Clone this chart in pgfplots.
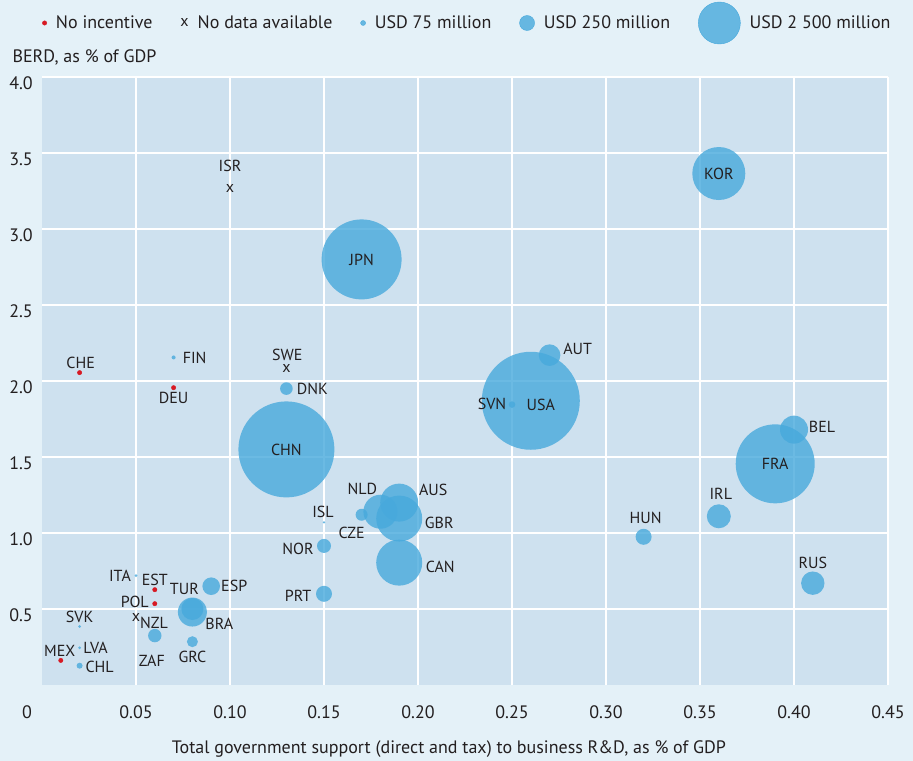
\documentclass[border=0pt]{standalone}
\usepackage{pgfplots}
\pgfplotsset{compat=1.18}
\usepackage{pgfplotstable}
\usepackage{fontspec}
\setmainfont{PT Sans}
\usetikzlibrary{backgrounds,calc}
\definecolor{outerbg}{RGB}{228,241,248}
\definecolor{plotbg}{RGB}{206,225,239}
\definecolor{bubble}{RGB}{71,169,220}
\definecolor{noinc}{RGB}{215,25,35}
\definecolor{txt}{RGB}{35,31,32}

\pgfplotstableread{
x y r dx dy label
0.26 1.87 49 10 -4 USA
0.13 1.55 48 0 0 CHN
0.17 2.80 40 0 0 JPN
0.39 1.455 39.5 0 0 FRA
0.36 3.365 26.5 0 0 KOR
0.19 1.095 23 40 -4 GBR
0.19 0.805 23 41 -4 CAN
0.19 1.20 19 34 13 AUS
0.18 1.14 17 -18 23 NLD
0.08 0.48 14.5 27 -12 BRA
0.40 1.68 14 28 3 BEL
0.36 1.11 12 2 22 IRL
0.41 0.67 11.7 0 20 RUS
0.27 2.17 10.8 28 6 AUT
0.08 0.50 11 -8 20 TUR
0.09 0.65 8.8 23 0 ESP
0.32 0.975 8 2 19 HUN
0.15 0.60 8 -26 -2 PRT
0.15 0.915 7 -26 -3 NOR
0.06 0.325 6.7 -3 -25 ZAF
0.13 1.95 6.3 26 0 DNK
0.17 1.12 6 -10 -18 CZE
0.08 0.285 5.5 0 -15 GRC
0.25 1.845 3.3 -20 1 SVN
0.02 0.127 3 20 -1 CHL
0.07 2.155 2 21 0 FIN
0.05 0.72 1.5 -16 0 ITA
0.15 1.07 1.3 -1 10 ISL
0.02 0.385 1.5 0 10 SVK
0.02 0.245 1.5 16 0 LVA
}\bubbles

\pgfplotstableread{
x y dx dy label
0.02 2.055 1 10 CHE
0.07 1.956 0 -10 DEU
0.06 0.627 0 10 EST
0.06 0.535 -20 2 POL
0.01 0.162 -1 9 MEX
}\noinc

\pgfplotstableread{
x y dx dy label
0.10 3.265 0 23 ISR
0.13 2.08 1 14 SWE
0.05 0.443 18 -5 NZL
}\nodata

\newcommand\lblfont{\fontsize{16}{19}\selectfont}
\newcommand\axfont{\fontsize{18}{21}\selectfont}

\begin{document}
\begin{tikzpicture}
\begin{axis}[
  name=ax,
  scale only axis, width=846pt, height=608pt,
  xmin=0, xmax=0.45, ymin=0, ymax=4,
  axis line style={draw=none},
  major tick length=0pt,
  axis background/.style={fill=plotbg},
  grid=major, grid style={white, line width=1.8pt},
  xtick={0.05,0.10,0.15,0.20,0.25,0.30,0.35,0.40,0.45},
  xticklabels={0.05,0.10,0.15,0.20,0.25,0.30,0.35,0.40,0.45},
  extra x ticks={0}, extra x tick labels={0},
  extra x tick style={grid=none, xticklabel style={xshift=-15pt}},
  ytick={0.5,1.0,1.5,2.0,2.5,3.0,3.5,4.0},
  yticklabels={0.5,1.0,1.5,2.0,2.5,3.0,3.5,4.0},
  xticklabel style={anchor=north, inner sep=0pt, yshift=-20pt, font=\axfont, text=txt},
  yticklabel style={anchor=east, inner sep=0pt, xshift=-9pt, yshift=-6pt, font=\axfont, text=txt},
  xlabel={Total government support (direct and tax) to business R\&D, as \% of GDP},
  xlabel style={at={(axis description cs:0.5,0)}, anchor=base, yshift=-68.5pt, xshift=-16pt, font=\axfont, text=txt},
  legend columns=5,
  legend style={draw=none, fill=none, at={(0,1)}, anchor=west, yshift=54pt, inner sep=0pt,
    /tikz/every odd column/.append style={column sep=9pt},
    /tikz/every even column/.append style={column sep=28pt},
    nodes={inner sep=0pt, font=\axfont, text=txt}},
  clip=false,
  every node near coord/.append style={anchor=center, inner sep=0pt, font=\lblfont, text=txt, text opacity=1, fill opacity=1},
]
\addlegendimage{legend image code/.code={\fill[noinc] (2.2pt,0pt) circle (2.2pt);}}
\addlegendentry{No incentive}
\addlegendimage{legend image code/.code={\node[inner sep=0pt, font=\lblfont, text=txt] at (4pt,0pt) {x};}}
\addlegendentry{No data available}
\addlegendimage{legend image code/.code={\fill[bubble, fill opacity=0.8] (2.5pt,0pt) circle (2.5pt);}}
\addlegendentry{USD 75 million}
\addlegendimage{legend image code/.code={\fill[bubble, fill opacity=0.8] (7.5pt,0pt) circle (7.5pt);}}
\addlegendentry{USD 250 million}
\addlegendimage{legend image code/.code={\fill[bubble, fill opacity=0.8] (21pt,0pt) circle (21pt);}}
\addlegendentry{USD 2 500 million}

% bubbles (area ~ support, radius in pt)
\addplot[scatter, only marks, mark=*, point meta=\thisrow{r},
  visualization depends on={\thisrow{r} \as \rad},
  scatter/use mapped color={draw=bubble, draw opacity=0, fill=bubble, fill opacity=0.8},
  scatter/@pre marker code/.append style={/tikz/mark size=\rad pt},
] table {\bubbles};
% bubble labels
\addplot[only marks, mark=none, point meta=explicit symbolic,
  visualization depends on={\thisrow{dx} \as \ddx},
  visualization depends on={\thisrow{dy} \as \ddy},
  nodes near coords,
  every node near coord/.append style={xshift=\ddx pt, yshift=\ddy pt},
] table[meta=label] {\bubbles};

\addplot[only marks, mark=*, mark size=2.2pt, mark options={draw=noinc, fill=noinc},
  point meta=explicit symbolic,
  visualization depends on={\thisrow{dx} \as \ddx},
  visualization depends on={\thisrow{dy} \as \ddy},
  nodes near coords,
  every node near coord/.append style={xshift=\ddx pt, yshift=\ddy pt},
] table[meta=label] {\noinc};

\addplot[only marks, mark=text, text mark={\lblfont\color{txt}x},
  point meta=explicit symbolic,
  visualization depends on={\thisrow{dx} \as \ddx},
  visualization depends on={\thisrow{dy} \as \ddy},
  nodes near coords,
  every node near coord/.append style={xshift=\ddx pt, yshift=\ddy pt},
] table[meta=label] {\nodata};
\end{axis}
\node[anchor=base west, font=\axfont, text=txt] at ($(ax.north west)+(-33pt,14pt)$) {BERD, as \% of GDP};
\begin{scope}[on background layer]
\fill[outerbg] ($(ax.south west)+(-42pt,-75.7pt)$) rectangle ($(ax.north east)+(25pt,77pt)$);
\end{scope}
\path[use as bounding box] ($(ax.south west)+(-42pt,-75.7pt)$) rectangle ($(ax.north east)+(25pt,77pt)$);
\end{tikzpicture}
\end{document}
